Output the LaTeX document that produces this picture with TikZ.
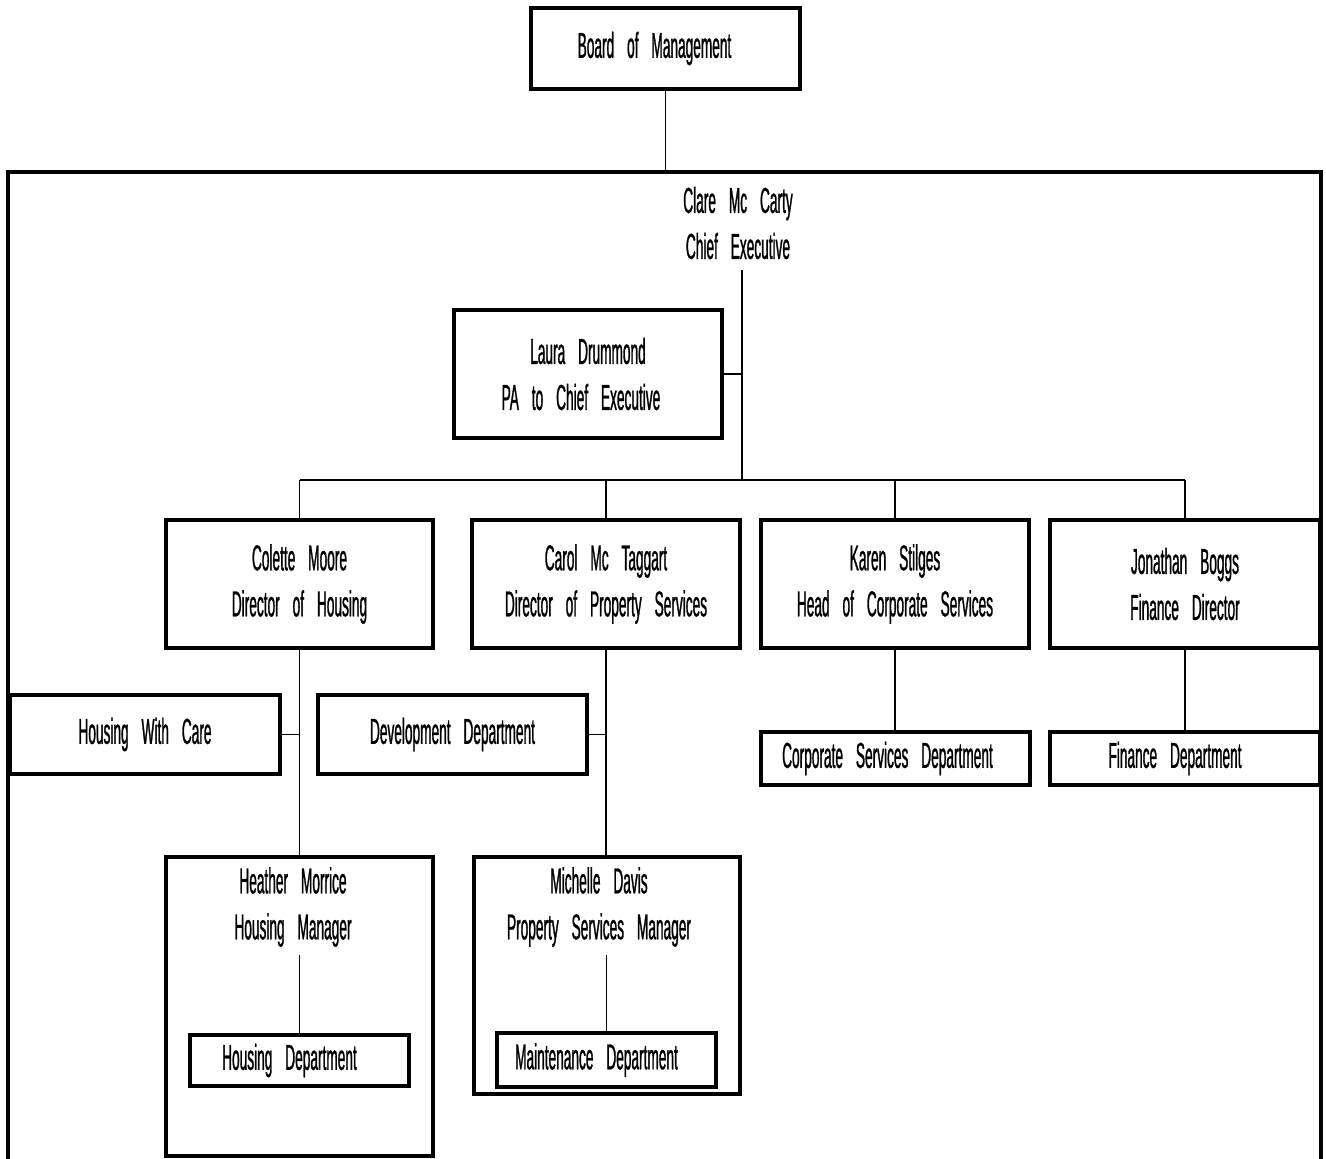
\documentclass[tikz,border=0pt]{standalone}
\usepackage{fontspec}
\setmainfont{Liberation Sans}[FakeStretch=0.38,WordSpace=3.4,FakeBold=0.8]
\begin{document}
\begin{tikzpicture}[x=1pt,y=-1pt,
  txt/.style={font=\fontsize{36}{46}\selectfont, align=center, inner sep=0pt},
  box/.style={txt, draw, line width=3.4pt},
  conn/.style={line width=1.2pt},
  frame/.style={line width=3.6pt}]
\useasboundingbox (0,0) rectangle (1326,1159);
% outer frame
\draw[frame] (8,1160) -- (8,172) -- (1321,172) -- (1321,1160);
\coordinate (frametop) at (665.5,172);
% boxes
\node[box, minimum width=269, minimum height=81] (board) at (665.5,48.5) {Board of Management\hspace*{22pt}};
\node[txt] (clare) at (738,223) {Clare Mc Carty\\Chief Executive};
\node[box, minimum width=268, minimum height=128] (laura) at (588,374) {Laura Drummond\\PA to Chief Executive\hspace*{14pt}};
\node[box, minimum width=267, minimum height=128] (colette) at (299.5,584) {Colette Moore\\Director of Housing};
\node[box, minimum width=268, minimum height=128] (carol) at (606,584) {Carol Mc Taggart\\Director of Property Services};
\node[box, minimum width=268, minimum height=128] (karen) at (895,584) {Karen Stilges\\Head of Corporate Services};
\node[box, minimum width=270, minimum height=128] (jonathan) at (1185,584) {Jonathan Boggs\\Finance Director};
\node[box, minimum width=270, minimum height=79] (hwc) at (145,734.5) {Housing With Care};
\node[box, minimum width=269, minimum height=79] (dev) at (452.5,734.5) {Development Department};
\node[box, minimum width=269, minimum height=53] (corp) at (895.5,758.5) {Corporate Services Department\hspace*{16pt}};
\node[box, minimum width=270, minimum height=53] (fin) at (1185,758.5) {Finance Department\hspace*{20pt}};
\node[box, minimum width=267, minimum height=299] (heather) at (299.5,1006.5) {};
\node[txt] (heatherlbl) at (293,907) {Heather Morrice\\Housing Manager};
\node[box, minimum width=219, minimum height=51] (hdept) at (299.5,1060.5) {Housing Department\hspace*{20pt}};
\node[box, minimum width=266, minimum height=237] (michelle) at (607,975.5) {};
\node[txt] (michellelbl) at (599,907) {Michelle Davis\\Property Services Manager};
\node[box, minimum width=219, minimum height=54] (mdept) at (606.5,1060) {Maintenance Department\hspace*{20pt}};
% junction coordinates
\coordinate (spine) at (742,480);
\coordinate (clarefoot) at (742,270);
\coordinate (heatherfoot) at (299.5,955);
\coordinate (michellefoot) at (606.5,955);
% connectors
\draw[conn] (board.south) -- (frametop);
\draw[conn] (clarefoot) -- (spine);
\draw[conn] (laura.east) -- (laura.east -| spine);
\draw[conn] (colette.north |- spine) -- (jonathan.north |- spine);
\foreach \n in {colette,carol,karen,jonathan}
  \draw[conn] (\n.north) -- (\n.north |- spine);
\draw[conn] (colette.south) -- (heather.north);
\draw[conn] (hwc.east) -- (hwc.east -| colette.south);
\draw[conn] (carol.south) -- (carol.south |- michelle.north);
\draw[conn] (dev.east) -- (dev.east -| carol.south);
\draw[conn] (karen.south) -- (corp.north -| karen.south);
\draw[conn] (jonathan.south) -- (fin.north);
\draw[conn] (heatherfoot) -- (hdept.north);
\draw[conn] (michellefoot) -- (mdept.north);
\end{tikzpicture}
\end{document}
